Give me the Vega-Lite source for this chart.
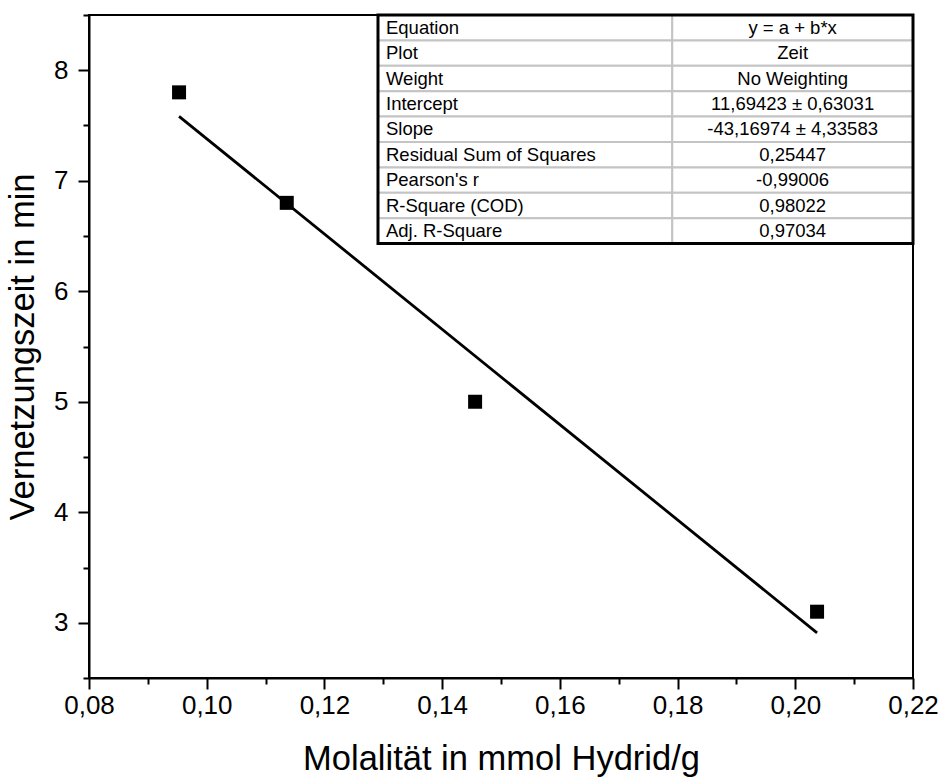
{
  "$schema": "https://vega.github.io/schema/vega-lite/v6.json",
  "width": 824,
  "height": 663,
  "autosize": "none",
  "padding": {"left": 89, "top": 15, "right": 32, "bottom": 102},
  "background": "white",
  "config": {
    "font": "Liberation Sans",
    "view": {"stroke": "black", "strokeWidth": 2},
    "axis": {
      "grid": false,
      "domainColor": "black",
      "domainWidth": 2,
      "tickColor": "black",
      "tickWidth": 2,
      "labelColor": "black",
      "titleColor": "black",
      "titleFontSize": 34.5,
      "titleFontWeight": "normal"
    }
  },
  "datasets": {
    "messung": [
      {"molal": 0.0953, "zeit": 7.8},
      {"molal": 0.1136, "zeit": 6.8},
      {"molal": 0.1456, "zeit": 5.0},
      {"molal": 0.2037, "zeit": 3.1}
    ],
    "fitparameter": [
      {"label": "Equation", "value": "y = a + b*x"},
      {"label": "Plot", "value": "Zeit"},
      {"label": "Weight", "value": "No Weighting"},
      {"label": "Intercept", "value": "11,69423 ± 0,63031"},
      {"label": "Slope", "value": "-43,16974 ± 4,33583"},
      {"label": "Residual Sum of Squares", "value": "0,25447"},
      {"label": "Pearson's r", "value": "-0,99006"},
      {"label": "R-Square (COD)", "value": "0,98022"},
      {"label": "Adj. R-Square", "value": "0,97034"}
    ]
  },
  "layer": [
    {
      "data": {"name": "messung"},
      "layer": [
        {
          "mark": {"type": "point", "shape": "square", "filled": true, "color": "black", "size": 196, "opacity": 1},
          "encoding": {
            "x": {
              "field": "molal",
              "type": "quantitative",
              "scale": {"domain": [0.08, 0.22], "nice": false, "zero": false},
              "axis": {
                "title": "Molalität in mmol Hydrid/g",
                "values": [0.08, 0.09, 0.1, 0.11, 0.12, 0.13, 0.14, 0.15, 0.16, 0.17, 0.18, 0.19, 0.2, 0.21, 0.22],
                "labelExpr": "round(datum.value * 100) % 2 == 0 ? replace(format(datum.value, '.2f'), '.', ',') : ''",
                "tickSize": {"condition": {"test": "round(datum.value * 100) % 2 == 0", "value": 11}, "value": 6},
                "labelFontSize": 26,
                "labelPadding": 3,
                "titlePadding": 24,
                "labelFlush": false,
                "labelOverlap": false
              }
            },
            "y": {
              "field": "zeit",
              "type": "quantitative",
              "scale": {"domain": [2.5, 8.5], "nice": false, "zero": false},
              "axis": {
                "title": "Vernetzungszeit in min",
                "values": [2.5, 3, 3.5, 4, 4.5, 5, 5.5, 6, 6.5, 7, 7.5, 8, 8.5],
                "labelExpr": "datum.value % 1 == 0 ? format(datum.value, 'd') : ''",
                "tickSize": {"condition": {"test": "datum.value % 1 == 0", "value": 11}, "value": 6},
                "labelFontSize": 26,
                "labelPadding": 10,
                "titlePadding": 13,
                "labelFlush": false,
                "labelOverlap": false
              }
            }
          }
        },
        {
          "transform": [{"regression": "zeit", "on": "molal"}],
          "mark": {"type": "line", "color": "black", "strokeWidth": 2.8},
          "encoding": {
            "x": {"field": "molal", "type": "quantitative"},
            "y": {"field": "zeit", "type": "quantitative"}
          }
        }
      ]
    },
    {
      "data": {"name": "fitparameter"},
      "encoding": {
        "y": {
          "field": "label",
          "type": "nominal",
          "sort": null,
          "scale": {
            "type": "band",
            "domain": ["Equation", "Plot", "Weight", "Intercept", "Slope", "Residual Sum of Squares", "Pearson's r", "R-Square (COD)", "Adj. R-Square",
                       "frei01", "frei02", "frei03", "frei04", "frei05", "frei06", "frei07", "frei08", "frei09", "frei10", "frei11", "frei12", "frei13", "frei14", "frei15", "frei16", "frei17"],
            "paddingInner": 0,
            "paddingOuter": 0.05,
            "align": 0
          },
          "axis": null
        }
      },
      "layer": [
        {
          "mark": {"type": "rect", "fill": "white", "stroke": "#c4c4c4", "strokeWidth": 2},
          "encoding": {
            "x": {"datum": 0.1291, "type": "quantitative"},
            "x2": {"datum": 0.1791}
          }
        },
        {
          "mark": {"type": "rect", "fill": "white", "stroke": "#c4c4c4", "strokeWidth": 2},
          "encoding": {
            "x": {"datum": 0.1791, "type": "quantitative"},
            "x2": {"datum": 0.22}
          }
        },
        {
          "mark": {"type": "text", "align": "left", "baseline": "middle", "dx": 8, "fontSize": 18.5, "color": "black"},
          "encoding": {
            "x": {"datum": 0.1291, "type": "quantitative"},
            "text": {"field": "label"}
          }
        },
        {
          "mark": {"type": "text", "align": "center", "baseline": "middle", "fontSize": 18.5, "color": "black"},
          "encoding": {
            "x": {"datum": 0.19955, "type": "quantitative"},
            "text": {"field": "value"}
          }
        }
      ]
    },
    {
      "data": {"values": [{}]},
      "mark": {"type": "rect", "fill": null, "fillOpacity": 0, "stroke": "black", "strokeWidth": 3},
      "encoding": {
        "x": {"datum": 0.1291, "type": "quantitative"},
        "x2": {"datum": 0.22},
        "y": {"datum": 8.5, "type": "quantitative", "scale": {"domain": [2.5, 8.5], "nice": false, "zero": false}, "axis": null},
        "y2": {"datum": 6.431}
      }
    }
  ],
  "resolve": {"scale": {"y": "independent"}, "axis": {"y": "independent"}}
}
